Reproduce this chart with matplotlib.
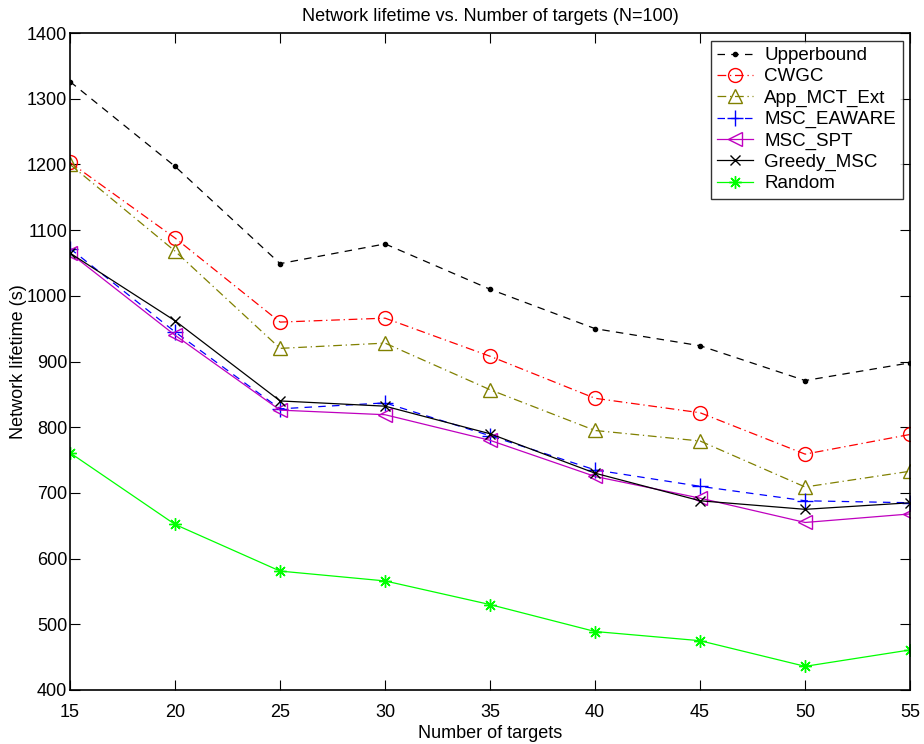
import matplotlib
matplotlib.use('Agg')
import matplotlib.pyplot as plt

plt.rcParams['font.family'] = ['Liberation Sans', 'DejaVu Sans']

targets = [15, 20, 25, 30, 35, 40, 45, 50, 55]

upperbound = [1326, 1197, 1049, 1079, 1010, 950, 924, 871, 898]
cwgc = [1203, 1088, 960, 966, 908, 844, 822, 759, 789]
app_mct_ext = [1200, 1068, 920, 928, 857, 795, 779, 709, 733]
msc_eaware = [1072, 945, 828, 837, 787, 735, 710, 688, 685]
msc_spt = [1065, 940, 826, 819, 780, 725, 692, 655, 668]
greedy_msc = [1065, 962, 840, 832, 790, 730, 688, 675, 685]
random_alg = [761, 652, 581, 566, 530, 489, 475, 436, 461]

fig = plt.figure(figsize=(9.24, 7.44), dpi=100)
ax = fig.add_axes([0.0758, 0.0726, 0.9092, 0.883])

lw = 0.9
ax.plot(targets, upperbound, color='k', ls=(0, (6, 5)), marker='.', markersize=6, lw=lw, label='Upperbound')
ax.plot(targets, cwgc, color='r', ls=(0, (7, 3, 1, 3)), marker='o', mfc='none', markersize=10, lw=lw, label='CWGC')
ax.plot(targets, app_mct_ext, color=(0.5, 0.5, 0), ls=(0, (7, 3, 1, 3)), marker='^', mfc='none', markersize=10, lw=lw, label='App_MCT_Ext')
ax.plot(targets, msc_eaware, color='b', ls=(0, (6, 5)), marker='+', markersize=11, lw=lw, label='MSC_EAWARE')
ax.plot(targets, msc_spt, color='m', ls='-', marker='<', mfc='none', markersize=10, lw=lw, label='MSC_SPT')
ax.plot(targets, greedy_msc, color='k', ls='-', marker='x', markersize=7, lw=lw, label='Greedy_MSC')
ax.plot(targets, random_alg, color=(0, 1, 0), ls='-', marker=(8, 2, 0), markersize=9, lw=lw, label='Random')

ax.set_xlim(15, 55)
ax.set_ylim(400, 1400)
ax.set_xticks(range(15, 56, 5))
ax.set_yticks(range(400, 1401, 100))
ax.tick_params(direction='in', top=True, right=True, labelsize=13, length=7)
ax.tick_params(axis='x', pad=10)
ax.tick_params(axis='y', pad=2)
for s in ax.spines.values():
    s.set_linewidth(1.2)

ax.set_xlabel('Number of targets', fontsize=13, labelpad=3)
ax.set_ylabel('Network lifetime (s)', fontsize=13, labelpad=0)
ax.set_title('Network lifetime vs. Number of targets (N=100)', fontsize=13, pad=9)

leg = ax.legend(loc='upper right', fontsize=13.5, fancybox=False, edgecolor='k',
                handlelength=1.9, handletextpad=0.6, borderpad=0.35, labelspacing=0.22,
                borderaxespad=0.4, numpoints=1)
leg.get_frame().set_linewidth(1.0)

plt.savefig('out.png', dpi=100)
